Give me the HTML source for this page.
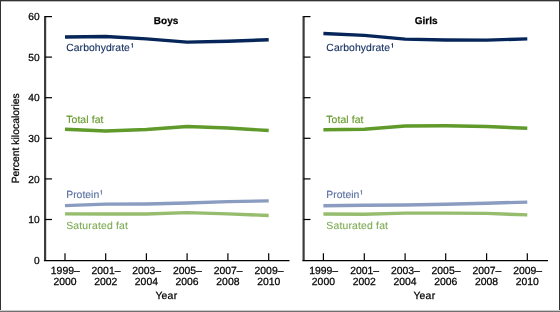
<!DOCTYPE html>
<html><head><meta charset="utf-8"><style>
html,body{margin:0;padding:0;background:#fff;}
body{width:560px;height:312px;overflow:hidden;}
svg{display:block;will-change:transform;}
text{font-family:"Liberation Sans",sans-serif;font-size:10.4px;stroke-width:0.25px;text-rendering:geometricPrecision;}
</style></head><body>
<svg width="560" height="312" viewBox="0 0 560 312">
<path d="M45.1,16.0 V260.55" fill="none" stroke="#3c3c3c" stroke-width="2.2"/>
<path d="M43.9,260.55 H289.5" fill="none" stroke="#000" stroke-width="1.3"/>
<path d="M45,16.6 H52" stroke="#000" stroke-width="1.2"/>
<path d="M45,57.1 H52" stroke="#000" stroke-width="1.2"/>
<path d="M45,97.7 H52" stroke="#000" stroke-width="1.2"/>
<path d="M45,138.3 H52" stroke="#000" stroke-width="1.2"/>
<path d="M45,178.9 H52" stroke="#000" stroke-width="1.2"/>
<path d="M45,219.5 H52" stroke="#000" stroke-width="1.2"/>
<path d="M65.0,260.55 V253.15" stroke="#000" stroke-width="1.2"/>
<path d="M105.7,260.55 V253.15" stroke="#000" stroke-width="1.2"/>
<path d="M146.4,260.55 V253.15" stroke="#000" stroke-width="1.2"/>
<path d="M187.1,260.55 V253.15" stroke="#000" stroke-width="1.2"/>
<path d="M227.9,260.55 V253.15" stroke="#000" stroke-width="1.2"/>
<path d="M268.7,260.55 V253.15" stroke="#000" stroke-width="1.2"/>
<text x="39.6" y="20.2" text-anchor="end" style="font-size:10.2px;fill:#000;stroke:#000">60</text>
<text x="39.6" y="60.7" text-anchor="end" style="font-size:10.2px;fill:#000;stroke:#000">50</text>
<text x="39.6" y="101.3" text-anchor="end" style="font-size:10.2px;fill:#000;stroke:#000">40</text>
<text x="39.6" y="141.9" text-anchor="end" style="font-size:10.2px;fill:#000;stroke:#000">30</text>
<text x="39.6" y="182.5" text-anchor="end" style="font-size:10.2px;fill:#000;stroke:#000">20</text>
<text x="39.6" y="223.1" text-anchor="end" style="font-size:10.2px;fill:#000;stroke:#000">10</text>
<text x="39.6" y="263.7" text-anchor="end" style="font-size:10.2px;fill:#000;stroke:#000">0</text>
<text x="65.3" y="273.9" text-anchor="middle" style="fill:#000;stroke:#000">1999–</text>
<text x="65.0" y="285.4" text-anchor="middle" style="fill:#000;stroke:#000">2000</text>
<text x="106.0" y="273.9" text-anchor="middle" style="fill:#000;stroke:#000">2001–</text>
<text x="105.7" y="285.4" text-anchor="middle" style="fill:#000;stroke:#000">2002</text>
<text x="146.70000000000002" y="273.9" text-anchor="middle" style="fill:#000;stroke:#000">2003–</text>
<text x="146.4" y="285.4" text-anchor="middle" style="fill:#000;stroke:#000">2004</text>
<text x="187.4" y="273.9" text-anchor="middle" style="fill:#000;stroke:#000">2005–</text>
<text x="187.1" y="285.4" text-anchor="middle" style="fill:#000;stroke:#000">2006</text>
<text x="228.20000000000002" y="273.9" text-anchor="middle" style="fill:#000;stroke:#000">2007–</text>
<text x="227.9" y="285.4" text-anchor="middle" style="fill:#000;stroke:#000">2008</text>
<text x="269.0" y="273.9" text-anchor="middle" style="fill:#000;stroke:#000">2009–</text>
<text x="268.7" y="285.4" text-anchor="middle" style="fill:#000;stroke:#000">2010</text>
<text x="166.25" y="298.8" text-anchor="middle" textLength="21.7" lengthAdjust="spacing" style="fill:#000;stroke:#000">Year</text>
<text x="166.1" y="23.5" text-anchor="middle" font-weight="bold" style="font-size:10px;fill:#000;stroke:#000">Boys</text>
<polyline points="65.00,213.85 105.70,214.05 146.40,214.05 187.10,212.65 227.90,213.85 268.70,215.45" fill="none" stroke="#96bc6e" stroke-width="3.4" stroke-linejoin="round"/>
<polyline points="65.00,205.65 105.70,204.15 146.40,203.95 187.10,202.95 227.90,201.65 268.70,200.85" fill="none" stroke="#8a9cc0" stroke-width="3.4" stroke-linejoin="round"/>
<polyline points="65.00,129.25 105.70,131.05 146.40,129.45 187.10,126.55 227.90,128.05 268.70,130.45" fill="none" stroke="#5f9a2a" stroke-width="3.4" stroke-linejoin="round"/>
<polyline points="65.00,37.00 105.70,36.50 146.40,38.90 187.10,42.10 227.90,41.20 268.70,39.80" fill="none" stroke="#06265a" stroke-width="3.4" stroke-linejoin="round"/>
<text x="66.2" y="51.3" textLength="63.7" lengthAdjust="spacing" style="stroke-width:0.12px;fill:#102d5e;stroke:#102d5e">Carbohydrate</text><path d="M132.40,43.30 V47.70" stroke="#102d5e" stroke-width="0.9" fill="none"/><path d="M131.30,44.30 L132.40,43.50" stroke="#102d5e" stroke-width="0.8" fill="none"/>
<text x="66.2" y="123.4" textLength="37.2" lengthAdjust="spacing" style="stroke-width:0.12px;fill:#64992c;stroke:#64992c">Total fat</text>
<text x="66.2" y="198.2" textLength="33.0" lengthAdjust="spacing" style="stroke-width:0.12px;fill:#5a6fa2;stroke:#5a6fa2">Protein</text><path d="M101.45,190.20 V194.60" stroke="#5a6fa2" stroke-width="0.9" fill="none"/><path d="M100.35,191.20 L101.45,190.40" stroke="#5a6fa2" stroke-width="0.8" fill="none"/>
<text x="66.2" y="229.4" textLength="61.7" lengthAdjust="spacing" style="stroke-width:0.12px;fill:#7eab56;stroke:#7eab56">Saturated fat</text>
<path d="M303.6,16.0 V260.55" fill="none" stroke="#3c3c3c" stroke-width="2.2"/>
<path d="M302.4,260.55 H548" fill="none" stroke="#000" stroke-width="1.3"/>
<path d="M303.5,16.6 H310.5" stroke="#000" stroke-width="1.2"/>
<path d="M303.5,57.1 H310.5" stroke="#000" stroke-width="1.2"/>
<path d="M303.5,97.7 H310.5" stroke="#000" stroke-width="1.2"/>
<path d="M303.5,138.3 H310.5" stroke="#000" stroke-width="1.2"/>
<path d="M303.5,178.9 H310.5" stroke="#000" stroke-width="1.2"/>
<path d="M303.5,219.5 H310.5" stroke="#000" stroke-width="1.2"/>
<path d="M323.4,260.55 V253.15" stroke="#000" stroke-width="1.2"/>
<path d="M364.3,260.55 V253.15" stroke="#000" stroke-width="1.2"/>
<path d="M405.1,260.55 V253.15" stroke="#000" stroke-width="1.2"/>
<path d="M445.7,260.55 V253.15" stroke="#000" stroke-width="1.2"/>
<path d="M486.6,260.55 V253.15" stroke="#000" stroke-width="1.2"/>
<path d="M527.3,260.55 V253.15" stroke="#000" stroke-width="1.2"/>
<text x="323.7" y="273.9" text-anchor="middle" style="fill:#000;stroke:#000">1999–</text>
<text x="323.4" y="285.4" text-anchor="middle" style="fill:#000;stroke:#000">2000</text>
<text x="364.6" y="273.9" text-anchor="middle" style="fill:#000;stroke:#000">2001–</text>
<text x="364.3" y="285.4" text-anchor="middle" style="fill:#000;stroke:#000">2002</text>
<text x="405.40000000000003" y="273.9" text-anchor="middle" style="fill:#000;stroke:#000">2003–</text>
<text x="405.1" y="285.4" text-anchor="middle" style="fill:#000;stroke:#000">2004</text>
<text x="446.0" y="273.9" text-anchor="middle" style="fill:#000;stroke:#000">2005–</text>
<text x="445.7" y="285.4" text-anchor="middle" style="fill:#000;stroke:#000">2006</text>
<text x="486.90000000000003" y="273.9" text-anchor="middle" style="fill:#000;stroke:#000">2007–</text>
<text x="486.6" y="285.4" text-anchor="middle" style="fill:#000;stroke:#000">2008</text>
<text x="527.5999999999999" y="273.9" text-anchor="middle" style="fill:#000;stroke:#000">2009–</text>
<text x="527.3" y="285.4" text-anchor="middle" style="fill:#000;stroke:#000">2010</text>
<text x="424.25" y="298.8" text-anchor="middle" textLength="21.7" lengthAdjust="spacing" style="fill:#000;stroke:#000">Year</text>
<text x="426.2" y="23.5" text-anchor="middle" font-weight="bold" style="font-size:10px;fill:#000;stroke:#000">Girls</text>
<polyline points="323.40,214.00 364.30,214.20 405.10,213.10 445.70,213.10 486.60,213.40 527.30,214.90" fill="none" stroke="#96bc6e" stroke-width="3.4" stroke-linejoin="round"/>
<polyline points="323.40,205.70 364.30,205.20 405.10,205.00 445.70,204.30 486.60,203.20 527.30,202.10" fill="none" stroke="#8a9cc0" stroke-width="3.4" stroke-linejoin="round"/>
<polyline points="323.40,129.80 364.30,129.30 405.10,126.00 445.70,125.80 486.60,126.50 527.30,128.30" fill="none" stroke="#5f9a2a" stroke-width="3.4" stroke-linejoin="round"/>
<polyline points="323.40,33.50 364.30,35.40 405.10,39.10 445.70,40.00 486.60,40.10 527.30,38.90" fill="none" stroke="#06265a" stroke-width="3.4" stroke-linejoin="round"/>
<text x="326.3" y="51.3" textLength="63.7" lengthAdjust="spacing" style="stroke-width:0.12px;fill:#102d5e;stroke:#102d5e">Carbohydrate</text><path d="M392.50,43.30 V47.70" stroke="#102d5e" stroke-width="0.9" fill="none"/><path d="M391.40,44.30 L392.50,43.50" stroke="#102d5e" stroke-width="0.8" fill="none"/>
<text x="326.3" y="123.4" textLength="37.2" lengthAdjust="spacing" style="stroke-width:0.12px;fill:#64992c;stroke:#64992c">Total fat</text>
<text x="326.3" y="198.2" textLength="33.0" lengthAdjust="spacing" style="stroke-width:0.12px;fill:#5a6fa2;stroke:#5a6fa2">Protein</text><path d="M361.55,190.20 V194.60" stroke="#5a6fa2" stroke-width="0.9" fill="none"/><path d="M360.45,191.20 L361.55,190.40" stroke="#5a6fa2" stroke-width="0.8" fill="none"/>
<text x="326.3" y="229.4" textLength="61.7" lengthAdjust="spacing" style="stroke-width:0.12px;fill:#7eab56;stroke:#7eab56">Saturated fat</text>
<text transform="translate(18.8,138.3) rotate(-90)" text-anchor="middle" style="fill:#000;stroke:#000">Percent kilocalories</text>
<rect x="0" y="0" width="560" height="1" fill="#333"/>
<rect x="0" y="1" width="560" height="1" fill="#bbb"/>
<rect x="0" y="0" width="1" height="312" fill="#333"/>
<rect x="559" y="0" width="1" height="312" fill="#333"/>
<rect x="0" y="310" width="560" height="1" fill="#ccc"/>
<rect x="0" y="311" width="560" height="1" fill="#707070"/>
</svg>
</body></html>
